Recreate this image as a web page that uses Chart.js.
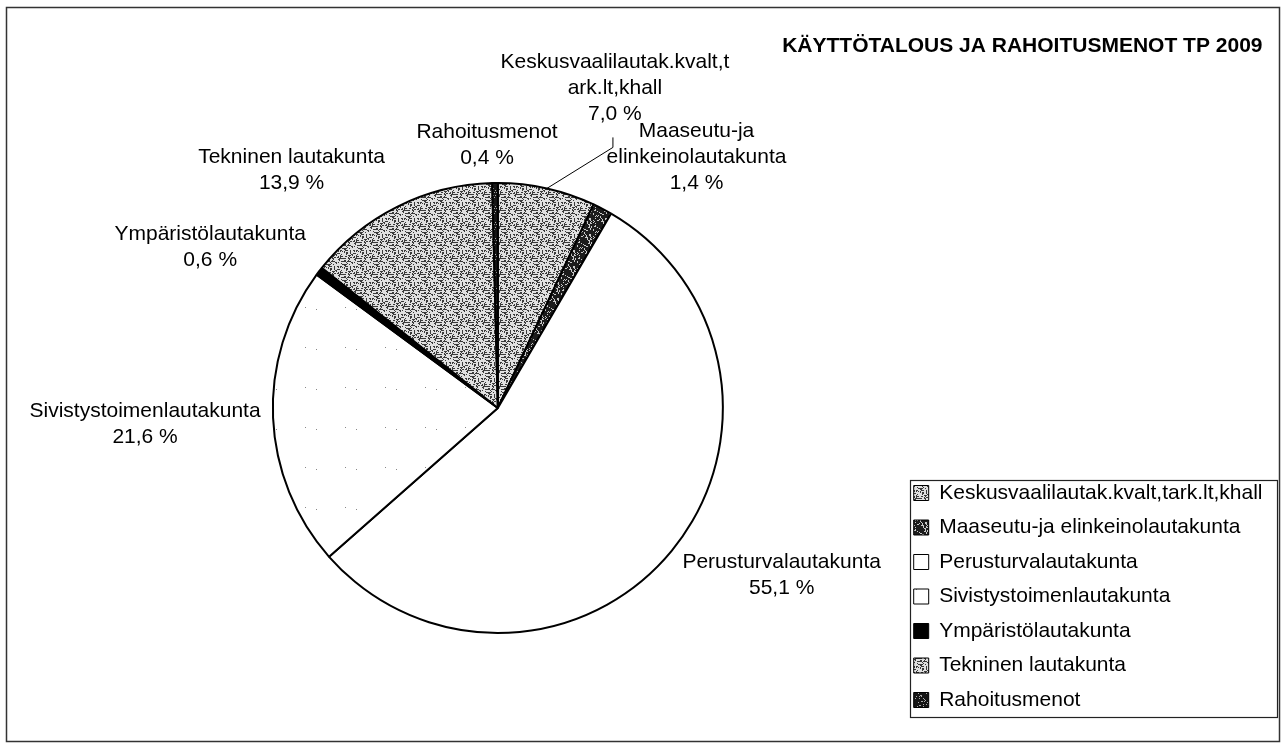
<!DOCTYPE html>
<html>
<head>
<meta charset="utf-8">
<title>Käyttötalous ja rahoitusmenot TP 2009</title>
<script src="https://cdn.jsdelivr.net/npm/chart.js@4.4.1/dist/chart.umd.min.js"></script>
<style>
  html, body { margin: 0; padding: 0; background: #fff; }
  #wrap { width: 1285px; height: 745px; }
</style>
</head>
<body>
<div id="wrap"><canvas id="c" width="1285" height="745"></canvas></div>
<script>
// data
const categories = [
  'Keskusvaalilautak.kvalt,tark.lt,khall',
  'Maaseutu-ja elinkeinolautakunta',
  'Perusturvalautakunta',
  'Sivistystoimenlautakunta',
  'Ympäristölautakunta',
  'Tekninen lautakunta',
  'Rahoitusmenot'
]
const shares = [7.0, 1.4, 55.1, 21.6, 0.6, 13.9, 0.4]
// label text as it is wrapped on the slices
const sliceLabelLines = [
  ['Keskusvaalilautak.kvalt,t', 'ark.lt,khall'],
  ['Maaseutu-ja', 'elinkeinolautakunta'],
  ['Perusturvalautakunta'],
  ['Sivistystoimenlautakunta'],
  ['Ympäristölautakunta'],
  ['Tekninen lautakunta'],
  ['Rahoitusmenot']
]
const chartTitle = 'KÄYTTÖTALOUS JA RAHOITUSMENOT TP 2009'

// layout: label centre relative to the slice's outer edge point
const labelOffsets = [[68, -100], [94, -52], [110, 24], [-128, 6], [-109, -24], [-106, -36], [-8, -38]]
const FONT = 'Liberation Sans, Arial, sans-serif'

const canvas = document.getElementById('c')
const ctx = canvas.getContext('2d')

// small deterministic stipple tiles, like the scanned fills
function stipple(bg, fg, frac, w, h, seed) {
  const tile = document.createElement('canvas')
  tile.width = w
  tile.height = h
  const g = tile.getContext('2d')
  g.fillStyle = bg
  g.fillRect(0, 0, w, h)
  g.fillStyle = fg
  for (let y = 0; y < h; y++) {
    for (let x = 0; x < w; x++) {
      let k = Math.imul(x + 31 * seed, 374761393) ^ Math.imul(y + 17 * seed, 668265263)
      k = Math.imul(k ^ (k >>> 13), 1274126177)
      k = (k ^ (k >>> 16)) >>> 0
      if ((k % 1000) < frac * 1000) g.fillRect(x, y, 1, 1)
    }
  }
  return ctx.createPattern(tile, 'repeat')
}

const lightStipple = stipple('#e0e0e0', '#3a3a3a', 0.30, 16, 16, 1)
const darkStipple = stipple('#1c1c1c', '#c8c8c8', 0.16, 16, 16, 2)
const darkerStipple = stipple('#161616', '#aaaaaa', 0.12, 16, 16, 3)
const sparseDots = stipple('#ffffff', '#888888', 0.004, 40, 40, 4)

const sliceFills = [lightStipple, darkStipple, '#ffffff', sparseDots, '#000000', lightStipple, darkerStipple]

// outer frame of the scanned sheet
const framePlugin = {
  id: 'frame',
  beforeDraw(chart) {
    const c = chart.ctx
    c.save()
    c.fillStyle = '#fff'
    c.fillRect(0, 0, chart.width, chart.height)
    c.strokeStyle = '#333'
    c.lineWidth = 1.5
    c.strokeRect(6.5, 7.5, 1273, 734)
    c.restore()
  }
}

// move the legend to the lower right and box it
const legendPlacePlugin = {
  id: 'legendPlace',
  afterLayout(chart) {
    const lg = chart.legend
    const h = lg.height
    lg.top = 469
    lg.bottom = lg.top + h
    lg.left += 10
    lg.right += 10
  },
  afterDraw(chart) {
    const lg = chart.legend
    const boxes = lg.legendHitBoxes
    if (!boxes || !boxes.length) return
    const left = Math.min(...boxes.map(b => b.left)) - 4
    const top = Math.min(...boxes.map(b => b.top)) - 2.5
    const bottom = Math.max(...boxes.map(b => b.top + b.height)) + 6.5
    const right = Math.max(...boxes.map(b => b.left + b.width)) + 14.5
    const c = chart.ctx
    c.save()
    c.strokeStyle = '#222'
    c.lineWidth = 1.2
    c.strokeRect(Math.round(left) + 0.5, Math.round(top) + 0.5, Math.round(right - left), Math.round(bottom - top))
    c.restore()
  }
}

// slice labels, name and share, placed from each arc's geometry
const sliceLabelPlugin = {
  id: 'sliceLabels',
  afterDatasetsDraw(chart) {
    const c = chart.ctx
    const meta = chart.getDatasetMeta(0)
    const lineH = 26
    c.save()
    c.font = '21px ' + FONT
    c.fillStyle = '#000'
    c.textAlign = 'center'
    c.textBaseline = 'middle'
    meta.data.forEach((arc, i) => {
      const p = arc.getProps(['x', 'y', 'startAngle', 'endAngle', 'outerRadius'], true)
      const mid = (p.startAngle + p.endAngle) / 2
      const ex = p.x + Math.cos(mid) * p.outerRadius
      const ey = p.y + Math.sin(mid) * p.outerRadius
      const lines = sliceLabelLines[i].concat([shares[i].toFixed(1).replace('.', ',') + ' %'])
      const cx = ex + labelOffsets[i][0]
      const cy = ey + labelOffsets[i][1]
      const y0 = cy - (lines.length - 1) * lineH / 2
      lines.forEach((t, k) => c.fillText(t, cx, y0 + k * lineH))
      if (i === 0) {
        // leader line for the moved label
        const lastY = y0 + (lines.length - 1) * lineH
        c.strokeStyle = '#000'
        c.lineWidth = 1
        c.beginPath()
        c.moveTo(ex, ey)
        c.lineTo(cx - 2, lastY + 33)
        c.lineTo(cx - 2, lastY + 23)
        c.stroke()
      }
    })
    c.restore()
  }
}

Chart.defaults.font.family = FONT
Chart.defaults.color = '#000'

const defaultLabels = Chart.overrides.pie.plugins.legend.labels.generateLabels

new Chart(canvas, {
  type: 'pie',
  data: {
    labels: categories,
    datasets: [{
      data: shares,
      backgroundColor: sliceFills,
      borderColor: '#000',
      borderWidth: 2
    }]
  },
  options: {
    responsive: false,
    animation: false,
    events: [],
    layout: {
      padding: { left: 105.5, right: 22.5, top: 10, bottom: 111 }
    },
    plugins: {
      title: {
        display: true,
        text: chartTitle,
        align: 'end',
        color: '#000',
        font: { family: FONT, size: 21, weight: 'bold', lineHeight: 1.2 },
        padding: { top: 23.4, bottom: 123.4 }
      },
      legend: {
        position: 'right',
        align: 'start',
        labels: {
          boxWidth: 15,
          boxHeight: 15,
          padding: 13.5,
          color: '#000',
          font: { family: FONT, size: 21 },
          generateLabels(chart) {
            return defaultLabels(chart).map(item => Object.assign(item, { lineWidth: 1, strokeStyle: '#000' }))
          }
        }
      },
      tooltip: { enabled: false }
    }
  },
  plugins: [framePlugin, legendPlacePlugin, sliceLabelPlugin]
})
</script>
</body>
</html>
